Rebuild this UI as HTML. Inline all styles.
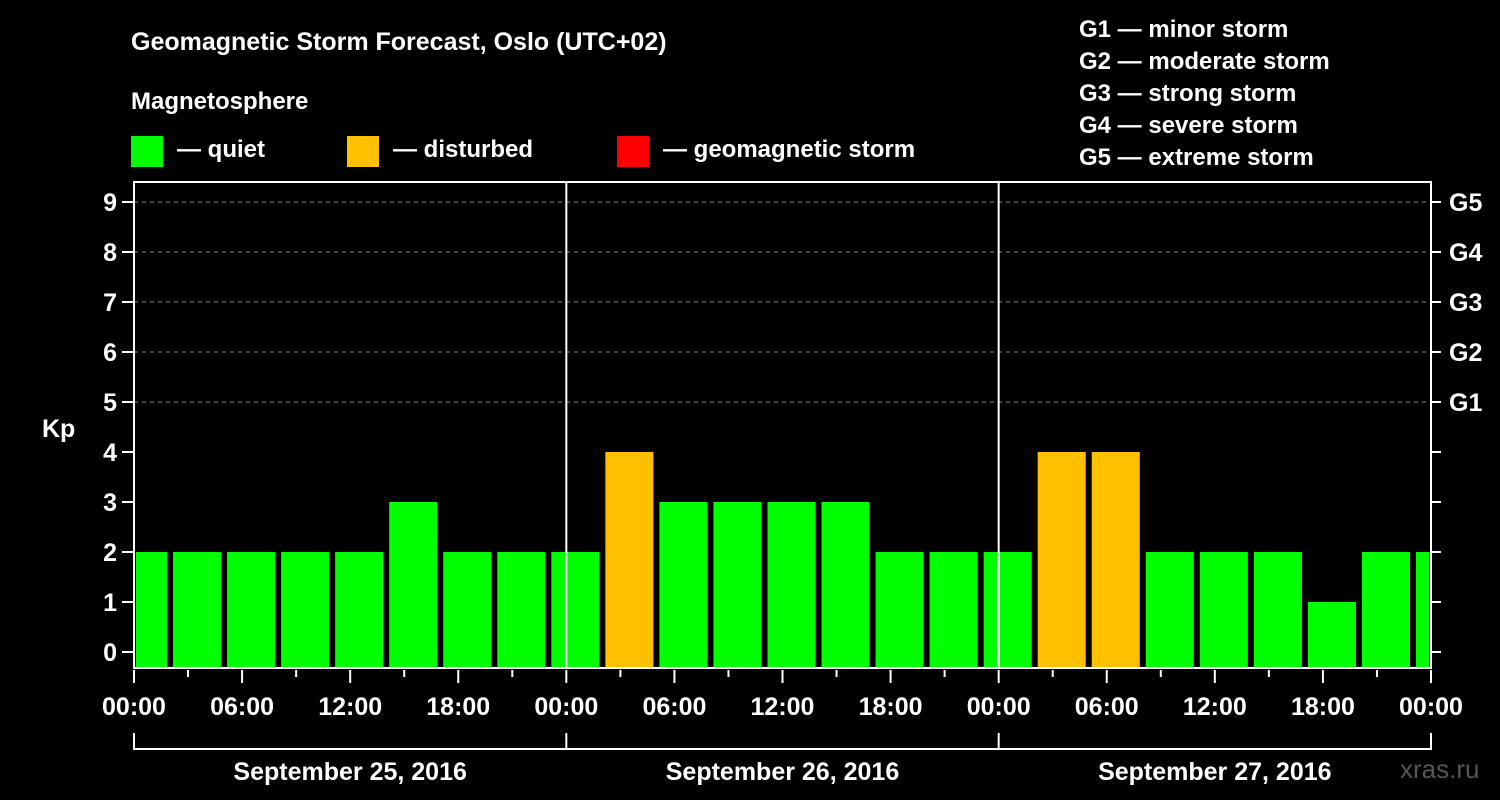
<!DOCTYPE html>
<html><head><meta charset="utf-8"><style>
body{margin:0;background:#000;}
svg{display:block;font-family:"Liberation Sans",sans-serif;font-weight:bold;}
</style></head><body>
<svg id="c" width="1500" height="800" viewBox="0 0 1500 800">
<rect width="1500" height="800" fill="#000"/>
<text x="131" y="50" fill="#fff" font-size="25">Geomagnetic Storm Forecast, Oslo (UTC+02)</text>
<text x="131" y="109" fill="#fff" font-size="24">Magnetosphere</text>
<g><rect x="131" y="136" width="32" height="31" fill="#00ff00"/><text x="177" y="157" fill="#fff" font-size="24">— quiet</text></g>
<g><rect x="347" y="136" width="32" height="31" fill="#ffc000"/><text x="393" y="157" fill="#fff" font-size="24">— disturbed</text></g>
<g><rect x="617" y="136" width="32" height="31" fill="#ff0000"/><text x="663" y="157" fill="#fff" font-size="24">— geomagnetic storm</text></g>
<g fill="#fff" font-size="24">
<text x="1079" y="37">G1 — minor storm</text>
<text x="1079" y="69">G2 — moderate storm</text>
<text x="1079" y="101">G3 — strong storm</text>
<text x="1079" y="133">G4 — severe storm</text>
<text x="1079" y="165">G5 — extreme storm</text>
</g>
<text x="42" y="437" fill="#fff" font-size="25">Kp</text>
<text x="1400" y="778" fill="#555" font-size="26" font-weight="normal">xras.ru</text>
<g id="plot"></g>
</svg>
<script>
const kpValues=[2,2,2,2,2,3,2,2,2,4,3,3,3,3,2,2,2,4,4,2,2,2,1,2,2];
const kpStatus=['q','q','q','q','q','q','q','q','q','d','q','q','q','q','q','q','q','d','d','q','q','q','q','q','q'];
const yTicks=[0,1,2,3,4,5,6,7,8,9];
const gLabels=['G1','G2','G3','G4','G5'];
const xTickLabels=['00:00','06:00','12:00','18:00','00:00','06:00','12:00','18:00','00:00','06:00','12:00','18:00','00:00'];
const dayLabels=['September 25, 2016','September 26, 2016','September 27, 2016'];
const NS='http://www.w3.org/2000/svg';
const g=document.getElementById('plot');
const L=134,R=1431,T=182,B=668,HOURS=72,OFFSET=2;
const xs=h=>L+(R-L)*h/HOURS;
const ys=v=>652-50*v;
function mk(t,a){const e=document.createElementNS(NS,t);for(const k in a)e.setAttribute(k,a[k]);g.appendChild(e);return e;}
// grid
for(let v=5;v<=9;v++){const e=mk('line',{x1:L,x2:R,y1:ys(v),y2:ys(v),stroke:'#888','stroke-width':1,'stroke-dasharray':'4,4'});

}
// bars
const colors={q:'#00ff00',d:'#ffc000',s:'#ff0000'};
kpValues.forEach((v,i)=>{
 let x0=xs(i*3-3+OFFSET)+3,x1=xs(i*3+OFFSET)-3;
 x0=Math.max(x0,L+2);x1=Math.min(x1,R-2);
 const e=mk('rect',{x:x0,y:ys(v),width:x1-x0,height:B-ys(v),fill:colors[kpStatus[i]]});
 
 
});
// day separators
for(let d=1;d<3;d++){const e=mk('line',{x1:xs(d*24),x2:xs(d*24),y1:T,y2:B,stroke:'#fff','stroke-width':2});

}
// frame
const fr=mk('rect',{x:L,y:T,width:R-L,height:B-T,fill:'none',stroke:'#fff','stroke-width':2});


// y ticks
yTicks.forEach(v=>{
 mk('line',{x1:L-12,x2:L,y1:ys(v),y2:ys(v),stroke:'#fff','stroke-width':2});
 mk('line',{x1:R,x2:R+10,y1:ys(v),y2:ys(v),stroke:'#fff','stroke-width':2});
 const t=mk('text',{x:L-17,y:ys(v)+9,fill:'#fff','font-size':25,'text-anchor':'end'});t.textContent=v;
 
 
});
gLabels.forEach((s,i)=>{const t=mk('text',{x:1449,y:ys(5+i)+9,fill:'#fff','font-size':25});t.textContent=s;
 
 });
// x ticks
for(let h=0;h<=72;h+=3){const major=h%6===0;mk('line',{x1:xs(h),x2:xs(h),y1:B+2,y2:B+(major?15:9),stroke:'#fff','stroke-width':2});}
xTickLabels.forEach((s,i)=>{const t=mk('text',{x:xs(i*6),y:715,fill:'#fff','font-size':25,'text-anchor':'middle'});t.textContent=s;
 
 });
// day brackets
mk('line',{x1:L,x2:R,y1:749,y2:749,stroke:'#fff','stroke-width':2});
for(let d=0;d<=3;d++)mk('line',{x1:xs(d*24),x2:xs(d*24),y1:733,y2:750,stroke:'#fff','stroke-width':2});
dayLabels.forEach((s,i)=>{const t=mk('text',{x:xs(i*24+12),y:780,fill:'#fff','font-size':25,'text-anchor':'middle'});t.textContent=s;
 
 });
</script>
</body></html>
